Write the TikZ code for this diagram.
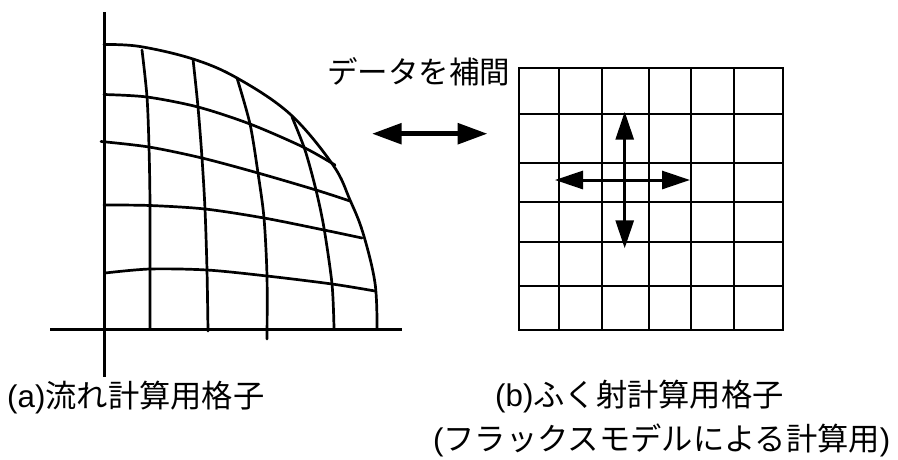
\documentclass[tikz,border=0pt]{standalone}
\usepackage{fontspec}
\setmainfont{Liberation Sans}
\newfontfamily\jfont{Noto Sans CJK JP}
\newcommand{\jt}[1]{{\jfont #1}}
\usetikzlibrary{arrows.meta}
\tikzset{
  axisline/.style={line width=2.8pt,black},
  meshline/.style={line width=2.7pt,black,line cap=round},
  gridline/.style={line width=2.6pt,black},
  bigarrow/.style={line width=5.5pt,{Triangle[length=30pt,width=20pt]}-{Triangle[length=30pt,width=20pt]}},
  smallarrow/.style={line width=3pt,{Triangle[length=28pt,width=18pt]}-{Triangle[length=28pt,width=18pt]}},
  label text/.style={inner sep=0pt,font=\fontsize{31.3}{34}\selectfont,anchor=west}
}
\begin{document}
\begin{tikzpicture}[x=1pt,y=-1pt]
\useasboundingbox (0,0) rectangle (898,459);
% axes
\draw[axisline] (104.5,12) -- (104.5,377);
\draw[axisline] (50,329.5) -- (402,329.5);
% outer arc
\draw[meshline] plot[smooth,tension=0.6] coordinates {(104,44.5) (140,46.5) (193,59) (237,78) (290,114) (333,165) (350,200) (363,233) (375,283) (377,329)};
% curved mesh lines
\draw[meshline] plot[smooth] coordinates {(104,94.5) (147,97) (198,107) (250,124) (303,147) (335,165)};
\draw[meshline] plot[smooth] coordinates {(101,141.5) (149,147) (202,158) (258,173) (316,190) (350,201)};
\draw[meshline] plot[smooth] coordinates {(104,205) (150,205.5) (205,209) (264,218) (324,230) (362,238)};
\draw[meshline] plot[smooth] coordinates {(105,273) (150,269) (207,270) (267,276) (332,284) (375,291)};
\draw[meshline] plot[smooth] coordinates {(142,50) (147,97) (149,147) (150,207) (150,328)};
\draw[meshline] plot[smooth] coordinates {(193,59) (198,107) (202,158) (205,209) (207,270) (208,331)};
\draw[meshline] plot[smooth] coordinates {(237,78) (250,124) (258,173) (264,218) (267,276) (267,339)};
\draw[meshline] plot[smooth] coordinates {(292,117) (305,150) (316,190) (324,228) (332,284) (334,328)};
% square grid
\foreach \gx in {519,559,602,649,691,734,783}
  \draw[gridline] (\gx,68) -- (\gx,330);
\foreach \gy in {68,114,163,202,242,286,330}
  \draw[gridline,line cap=rect] (519,\gy) -- (783,\gy);
% arrows
\coordinate (bigL) at (371.7,133.7);
\coordinate (bigR) at (487.7,133.7);
\coordinate (vT) at (624.7,111.7);
\coordinate (vB) at (624.7,248.3);
\coordinate (hL) at (555,180);
\coordinate (hR) at (690,180);
\draw[bigarrow] (bigL) -- (bigR);
\draw[smallarrow] (vT) -- (vB);
\draw[smallarrow] (hL) -- (hR);
% text
\node[label text,font=\fontsize{30.5}{34}\selectfont] (interp) at (327,72) {\jt{データを補間}};
\node[label text] (capa) at (7,398) {(a)\jt{流れ計算用格子}};
\node[label text] (capb) at (495,397) {(b)\jt{ふく射計算用格子}};
\node[label text] (capc) at (433,440) {(\jt{フラックスモデルによる計算用})};
\end{tikzpicture}
\end{document}
